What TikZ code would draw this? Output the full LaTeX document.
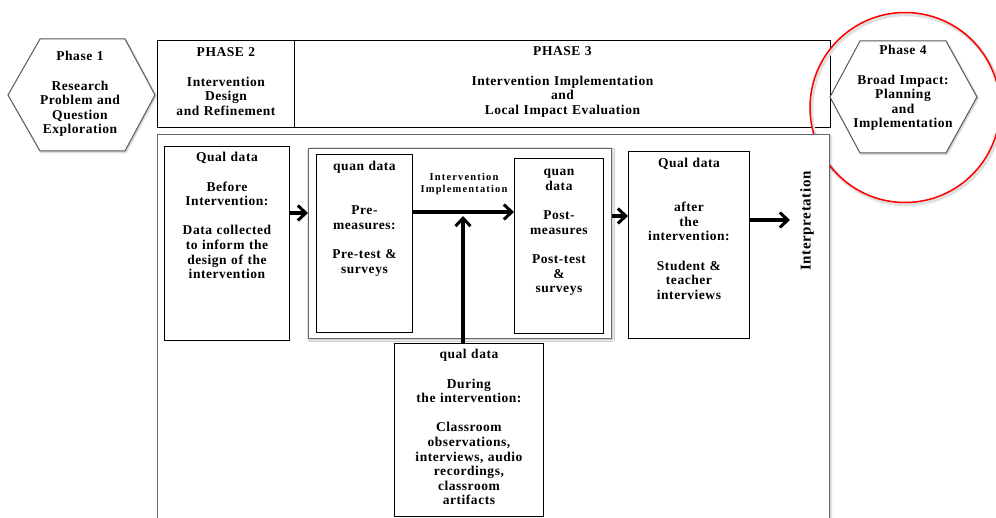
\documentclass[tikz,border=0pt]{standalone}
\usepackage{fontspec}
\setmainfont{Liberation Serif}[LetterSpace=4]
\newfontfamily\steplabelfont{Liberation Serif}[LetterSpace=11]
\usetikzlibrary{arrows.meta,shadows.blur}
\begin{document}
\begin{tikzpicture}[x=1pt,y=-1pt,
  frame/.style={draw=black, line width=0.9pt, inner sep=0pt, anchor=north west},
  grayframe/.style={draw=black!60, line width=1.1pt, fill=white, inner sep=0pt, anchor=north west,
    blur shadow={shadow xshift=1.2pt, shadow yshift=-1.2pt, shadow opacity=30, shadow blur steps=6}},
  hexa/.style={draw=black!65, line width=1pt, fill=white,
    blur shadow={shadow xshift=1.2pt, shadow yshift=-1.2pt, shadow opacity=25, shadow blur steps=6}},
  txt/.style={font=\bfseries\fontsize{13.5}{14.6}\selectfont, align=center, text width=200pt,
    inner sep=0pt, anchor=base},
  flow/.style={line width=3.2pt, -{Straight Barb[length=8pt, width=15pt, line width=3pt]}},
]
\useasboundingbox (0,0) rectangle (996,518);
\clip (0,0) rectangle (996,518);

% Phase 1 hexagon
\draw[hexa] (8,95) -- (40,39) -- (125,39) -- (155,95) -- (125,151) -- (40,151) -- cycle;
\node[txt] (p1) at (80,61) {Phase 1\\[14.6pt]Research\\Problem and\\Question\\Exploration};

% Phase 2 and Phase 3 header boxes
\node[frame, minimum width=137, minimum height=87] (ph2) at (157,40) {};
\node[frame, minimum width=536, minimum height=87] (ph3) at (294,40) {};
\node[txt] (p2) at (ph2.north |- 0,57) {PHASE 2\\[14.6pt]Intervention\\Design\\and Refinement};
\node[txt] (p3) at (ph3.north |- 0,56) {PHASE 3\\[14.6pt]Intervention Implementation\\and\\Local Impact Evaluation};

% Phase 4 hexagon with its highlight ring (soft ring under the red one)
\draw[black!12, line width=3.5pt] (906.5,109.5) circle (95pt);
\draw[hexa] (830,97) -- (860,41) -- (946,41) -- (977,97) -- (946,153) -- (860,153) -- cycle;
\node[txt] (p4) at (903,55) {Phase 4\\[14.6pt]Broad Impact:\\Planning\\and\\Implementation};
\draw[red, line width=1.5pt] (905,107.5) circle (95pt);

% Outer frame of the phase 3 work
\node[grayframe, minimum width=672, minimum height=420] (outer) at (157,134) {};

% Qualitative data before the intervention
\node[frame, minimum width=125, minimum height=194] (q1) at (164,146) {};
\node[txt] at (q1.north |- 0,162) {Qual data\\[14.6pt]Before\\Intervention:\\[14.6pt]Data collected\\to inform the\\design of the\\intervention};

% Quantitative measures group
\node[grayframe, minimum width=303, minimum height=190] (grp) at (308,148) {};
\node[frame, minimum width=96, minimum height=178] (quan1) at (316,154) {};
\node[frame, minimum width=89, minimum height=175] (quan2) at (514,158) {};
\node[txt] at (quan1.north |- 0,171) {quan data\\[29.2pt]Pre-\\measures:\\[14.6pt]Pre-test \&\\surveys};
\node[txt] at (quan2.north |- 0,176) {quan\\data\\[14.6pt]Post-\\measures\\[14.6pt]Post-test\\\&\\surveys};
\node[txt, font=\steplabelfont\bfseries\fontsize{10.5}{11.5}\selectfont] (impl) at (464,181)
  {Intervention\\Implementation};

% Qualitative data after the intervention
\node[frame, minimum width=121, minimum height=187] (q3) at (628,151) {};
\node[txt] at (q3.north |- 0,168) {Qual data\\[29.2pt]after\\the\\intervention:\\[14.6pt]Student \&\\teacher\\interviews};

% Qualitative data during the intervention
\node[frame, minimum width=149, minimum height=173] (q2) at (394,343) {};
\node[txt] at (q2.north |- 0,359) {qual data\\[14.6pt]During\\the intervention:\\[14.6pt]Classroom\\observations,\\interviews, audio\\recordings,\\classroom\\artifacts};

% Interpretation
\node[font=\bfseries\fontsize{15}{18}\selectfont, rotate=90, inner sep=0pt] (interp) at (807,221) {Interpretation};
\coordinate (interpIn) at (790,220);

% Connectors
\coordinate (rowA) at (0,213);
\coordinate (rowB) at (0,212);
\coordinate (rowC) at (0,216);
\coordinate (rowD) at (0,220);
\coordinate (meet) at (463,216);
\draw[flow] (q1.east |- rowA) -- (grp.west |- rowA);
\draw[flow] (quan1.east |- rowB) -- (quan2.west |- rowB);
\draw[flow] (q2.north -| meet) -- (meet);
\draw[flow] (grp.east |- rowC) -- (q3.west |- rowC);
\draw[flow] (q3.east |- rowD) -- (interpIn);
\end{tikzpicture}
\end{document}
